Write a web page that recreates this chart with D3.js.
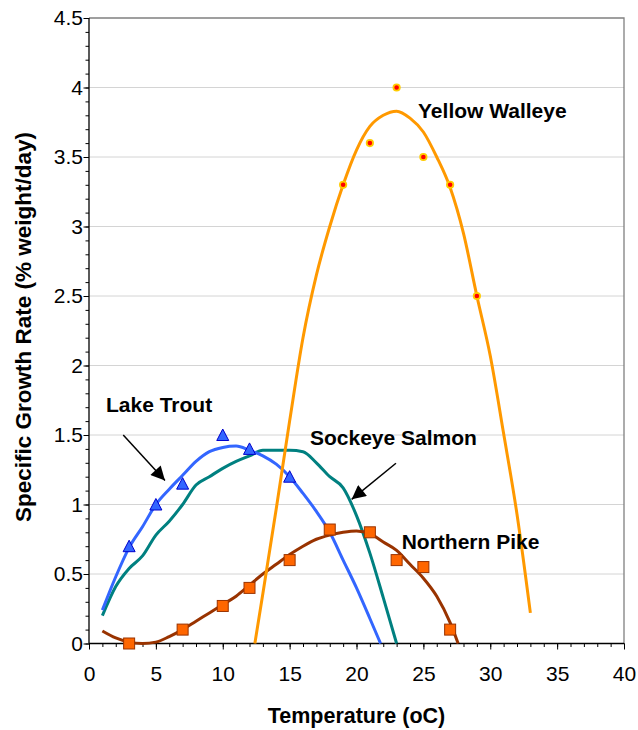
<!DOCTYPE html>
<html><head><meta charset="utf-8">
<script src="https://cdn.jsdelivr.net/npm/d3@7"></script>
<style>
body{margin:0;background:#fff;}
text{font-family:Arial,"Liberation Sans",sans-serif;}
</style></head>
<body><svg id="c" width="638" height="730"></svg>
<script>
// ---- data ----
const xTicks = [0,5,10,15,20,25,30,35,40];
const yTicks = [0,0.5,1,1.5,2,2.5,3,3.5,4,4.5];
const yTickLabels = ["0","0.5","1","1.5","2","2.5","3","3.5","4","4.5"];

const walleyeCurveT = [12.4,13,14,15,16,17,18,19,20,21,22,23,24,25,26,27,28,29,30,31,32,33];
const walleyeCurveG = [0,0.36,0.97,1.6,2.2,2.65,3.0,3.3,3.55,3.72,3.8,3.83,3.78,3.68,3.5,3.28,2.95,2.5,2.07,1.51,0.93,0.22];
const walleyeObsT = [19,21,23,25,27,29];
const walleyeObsG = [3.3,3.6,4.0,3.5,3.3,2.5];

const troutCurveT = [1,2,3,4,5,6,7,8,9,10,11,12,13,14,15,16,17,18,19,20,21,21.8];
const troutCurveG = [0.24,0.48,0.69,0.84,1.0,1.11,1.21,1.31,1.38,1.41,1.42,1.39,1.35,1.29,1.2,1.08,0.95,0.8,0.6,0.4,0.18,0];
const troutObsT = [3,5,7,10,12,15];
const troutObsG = [0.7,1.0,1.15,1.5,1.4,1.2];

const sockeyeCurveT = [1,2,3,4,5,6,7,8,9,10,11,12,13,14,15,16,17,18,19,20,21,22,23];
const sockeyeCurveG = [0.2,0.41,0.54,0.63,0.78,0.88,1.0,1.14,1.2,1.26,1.31,1.35,1.39,1.39,1.39,1.38,1.3,1.2,1.12,0.92,0.65,0.33,0];

const pikeCurveT = [1,2,3,4,5,6,7,8,9,10,11,12,13,14,15,16,17,18,19,20,21,22,23,24,25,26,27,27.6];
const pikeCurveG = [0.09,0.04,0.01,0,0.01,0.05,0.1,0.16,0.22,0.28,0.34,0.42,0.5,0.57,0.64,0.7,0.75,0.78,0.8,0.81,0.79,0.73,0.67,0.57,0.47,0.34,0.15,0];
const pikeObsT = [3,7,10,12,15,18,21,23,25,27];
const pikeObsG = [0,0.1,0.27,0.4,0.6,0.82,0.8,0.6,0.55,0.1];

const labelNames = ["Yellow Walleye","Lake Trout","Sockeye Salmon","Northern Pike"];
const labelT = [24.6,1.27,16.52,23.38];
const labelG = [3.78,1.669,1.429,0.678];
const arrowFromT = [2.56,22.95];
const arrowFromG = [1.50,1.297];
const arrowToT = [5.68,19.64];
const arrowToG = [1.172,1.037];

// ---- layout ----
const W=638,H=730;
const m={left:89,top:18,right:14,bottom:86.5};
const svg=d3.select("#c");
const x=d3.scaleLinear().domain([0,40]).range([m.left,W-m.right]);
const y=d3.scaleLinear().domain([0,4.5]).range([H-m.bottom,m.top]);

// gridlines
svg.append("g").selectAll("line").data(yTicks.filter(v=>v>0&&v<4.5)).join("line")
  .attr("x1",x(0)).attr("x2",x(40)).attr("y1",d=>y(d)).attr("y2",d=>y(d))
  .attr("stroke","#d4d4d4").attr("stroke-width",1);
// frame top/right
svg.append("path").attr("d",`M${x(0)},${y(4.5)}H${x(40)}V${y(0)}`)
  .attr("fill","none").attr("stroke","#808080").attr("stroke-width",1.3);

// axes
const yMinor=d3.range(0,4.501,0.1);
const xMinor=d3.range(0,40.01,1);
const yAx=svg.append("g").attr("transform",`translate(${x(0)},0)`)
  .call(d3.axisLeft(y).tickValues(yMinor).tickSize(3.5).tickFormat(""));
yAx.select(".domain").remove();
const yMaj=svg.append("g").attr("transform",`translate(${x(0)},0)`)
  .call(d3.axisLeft(y).tickValues(yTicks).tickSize(5.5).tickPadding(0.5).tickFormat((d,i)=>yTickLabels[i]));
yMaj.selectAll("text").attr("font-size","21px").attr("fill","#000");
const xAx=svg.append("g").attr("transform",`translate(0,${y(0)})`)
  .call(d3.axisBottom(x).tickValues(xMinor).tickSize(3.5).tickFormat(""));
xAx.select(".domain").remove();
const xMaj=svg.append("g").attr("transform",`translate(0,${y(0)})`)
  .call(d3.axisBottom(x).tickValues(xTicks).tickSize(6).tickPadding(17).tickFormat(d3.format("d")));
xMaj.selectAll("text").attr("font-size","21px").attr("fill","#000");
svg.selectAll(".tick line").attr("stroke","#000");
svg.selectAll(".domain").attr("stroke","#000").attr("stroke-width",1.3);
yMaj.select(".domain").attr("d",`M0,${y(4.5)}V${y(0)}`);
xMaj.select(".domain").attr("d",`M${x(0)},0H${x(40)}`);

// curves
const line=d3.line().x(d=>x(d[0])).y(d=>y(d[1])).curve(d3.curveMonotoneX);
function curve(ts,gs,color){
  svg.append("path").datum(ts.map((t,i)=>[t,gs[i]])).attr("d",line)
   .attr("fill","none").attr("stroke",color).attr("stroke-width",3).attr("stroke-linejoin","round");
}
curve(sockeyeCurveT,sockeyeCurveG,"#008080");
curve(troutCurveT,troutCurveG,"#3366ff");
curve(pikeCurveT,pikeCurveG,"#993300");
curve(walleyeCurveT,walleyeCurveG,"#ff9900");

// markers
svg.append("g").selectAll("path").data(troutObsT.map((t,i)=>[t,troutObsG[i]])).join("path")
  .attr("d",d=>{const cx=x(d[0]),cy=y(d[1]);return `M${cx},${cy-6}L${cx+6},${cy+5.5}L${cx-6},${cy+5.5}Z`;})
  .attr("fill","#3366ff").attr("stroke","#0000cc").attr("stroke-width",1);
svg.append("g").selectAll("rect").data(pikeObsT.map((t,i)=>[t,pikeObsG[i]])).join("rect")
  .attr("x",d=>x(d[0])-5.5).attr("y",d=>y(d[1])-5.5).attr("width",11).attr("height",11)
  .attr("fill","#ff6600").attr("stroke","#993300").attr("stroke-width",1);
svg.append("g").selectAll("circle").data(walleyeObsT.map((t,i)=>[t,walleyeObsG[i]])).join("circle")
  .attr("cx",d=>x(d[0])).attr("cy",d=>y(d[1])).attr("r",3.2)
  .attr("fill","#ff0000").attr("stroke","#ffcc00").attr("stroke-width",1.8);

// labels
svg.append("g").selectAll("text").data(labelNames).join("text")
  .attr("x",(d,i)=>x(labelT[i])).attr("y",(d,i)=>y(labelG[i]))
  .attr("font-size","21px").attr("font-weight","bold").attr("fill","#000").text(d=>d);

// arrows
svg.append("defs").append("marker").attr("id","ah").attr("viewBox","0 0 10 10")
  .attr("refX",10).attr("refY",5).attr("markerWidth",15).attr("markerHeight",14)
  .attr("markerUnits","userSpaceOnUse").attr("orient","auto")
  .append("path").attr("d","M0,0L10,5L0,10Z").attr("fill","#000");
svg.append("g").selectAll("line").data(arrowFromT).join("line")
  .attr("x1",(d,i)=>x(arrowFromT[i])).attr("y1",(d,i)=>y(arrowFromG[i]))
  .attr("x2",(d,i)=>x(arrowToT[i])).attr("y2",(d,i)=>y(arrowToG[i]))
  .attr("stroke","#000").attr("stroke-width",1.5).attr("marker-end","url(#ah)");

// axis titles
svg.append("text").attr("x",(x(0)+x(40))/2).attr("y",723).attr("text-anchor","middle")
  .attr("font-size","21.5px").attr("font-weight","bold").text("Temperature (oC)");
svg.append("text").attr("transform",`translate(31,327) rotate(-90)`).attr("text-anchor","middle")
  .attr("font-size","22.5px").attr("font-weight","bold").text("Specific Growth Rate (% weight/day)");
</script></body></html>
